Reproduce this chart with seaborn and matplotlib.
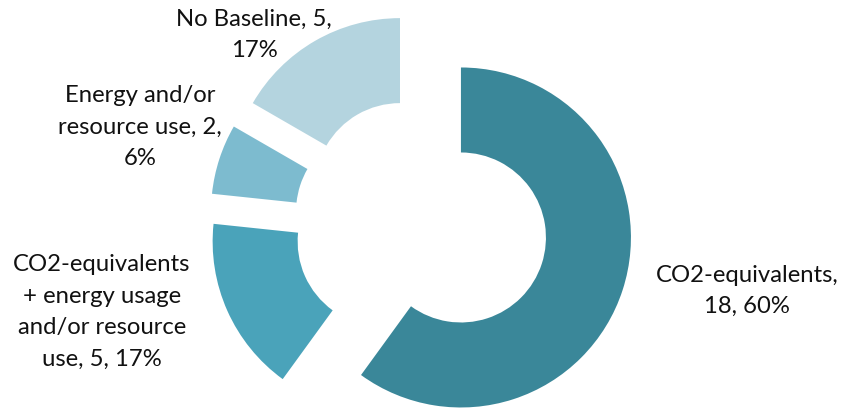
import matplotlib
matplotlib.use("Agg")
import matplotlib.pyplot as plt
import seaborn as sns

# data
categories = ["CO2-equivalents",
              "CO2-equivalents + energy usage and/or resource use",
              "Energy and/or resource use",
              "No Baseline"]
counts = [18, 5, 2, 5]
percents = [60, 17, 6, 17]
label_texts = ["CO2-equivalents,\n18, 60%",
               "CO2-equivalents\n+ energy usage\nand/or resource\nuse, 5, 17%",
               "Energy and/or\nresource use, 2,\n6%",
               "No Baseline, 5,\n17%"]
colors = ["#3A8799", "#4AA3BA", "#7DBBCF", "#B4D4DF"]

sns.set_style("white")
plt.rcParams['font.family'] = ['Lato', 'DejaVu Sans']

W, H = 842, 410
fig = plt.figure(figsize=(W / 100, H / 100), dpi=100)
ax = fig.add_axes([0, 0, 1, 1])

R = 170
wedges, _ = ax.pie(counts, colors=sns.color_palette(colors), startangle=90,
                   counterclock=False, radius=R, center=(421, H - 225.5),
                   explode=[42] * len(counts),
                   wedgeprops=dict(width=85, linewidth=0), frame=True)

ax.set_xlim(0, W)
ax.set_ylim(0, H)
ax.set_aspect("equal")
ax.axis("off")

# label positions (screen px, center of text block)
label_pos = [(747, 291), (102, 312), (140, 127), (254, 35)]
for txt, (x, y) in zip(label_texts, label_pos):
    ax.text(x, H - y, txt, ha="center", va="center", fontsize=17.2,
            linespacing=1.62, color="#111111")

fig.savefig("out.png", dpi=100)
